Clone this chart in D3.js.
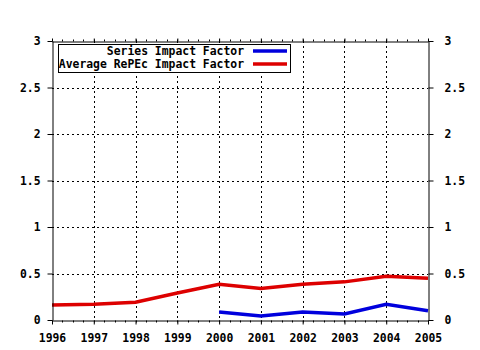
<!DOCTYPE html>
<html><head><meta charset="utf-8">
<script src="https://cdn.jsdelivr.net/npm/d3@7"></script>
<style>body{margin:0;background:#fff}svg{display:block}text{font-family:"DejaVu Sans Mono",monospace;font-weight:bold;font-size:11.4px;fill:#000}</style>
</head><body><svg id="c" width="480" height="350"></svg>
<script>
const years = [1996,1997,1998,1999,2000,2001,2002,2003,2004,2005];
const seriesYears = [2000,2001,2002,2003,2004,2005];
const seriesIF = [0.086,0.043,0.086,0.064,0.17,0.10];
const repecIF = [0.16,0.17,0.19,0.29,0.385,0.34,0.385,0.41,0.47,0.45];
const yTicks = [0,0.5,1,1.5,2,2.5,3];
const yTickLabels = ["0","0.5","1","1.5","2","2.5","3"];
const legendLabels = ["Series Impact Factor","Average RePEc Impact Factor"];
const colors = ["#0000dd","#dd0000"];

const svg = d3.select("#c");
const x = d3.scaleLinear().domain([1996,2005]).range([52,428]);
const y = d3.scaleLinear().domain([0,3]).range([320,41]);

// grid
const g = svg.append("g");
g.selectAll("line.v").data(years.slice(1,-1)).join("line")
  .attr("x1",d=>Math.round(x(d))+0.5).attr("x2",d=>Math.round(x(d))+0.5).attr("y1",y(3)).attr("y2",y(0))
  .attr("stroke","#000").attr("stroke-dasharray","2,3");
g.selectAll("line.h").data(yTicks.slice(1,-1)).join("line")
  .attr("y1",d=>Math.round(y(d))+0.5).attr("y2",d=>Math.round(y(d))+0.5).attr("x1",x(1996)).attr("x2",x(2005))
  .attr("stroke","#000").attr("stroke-dasharray","2,3");

// lines
const line = d3.line().x(d=>x(d[0])).y(d=>y(d[1]));
svg.append("path").datum(years.map((yr,i)=>[yr,repecIF[i]])).attr("d",line)
  .attr("fill","none").attr("stroke",colors[1]).attr("stroke-width",3.5);
svg.append("path").datum(seriesYears.map((yr,i)=>[yr,seriesIF[i]])).attr("d",line)
  .attr("fill","none").attr("stroke",colors[0]).attr("stroke-width",3.5);

// axes
const minor = d3.range(1996,2005.01,0.25);
const axB = svg.append("g").attr("transform",`translate(0,${y(0)+0.5})`)
  .call(d3.axisBottom(x).tickValues(years).tickFormat(d3.format("d")).tickSize(4).tickSizeOuter(0).tickPadding(9));
const axT = svg.append("g").attr("transform",`translate(0,${y(3)+0.5})`)
  .call(d3.axisTop(x).tickValues(years).tickFormat("").tickSize(3).tickSizeOuter(0));
[axB,axT].forEach((a,i)=>{
  a.selectAll(".mn").data(minor).join("line").attr("class","mn")
    .attr("x1",d=>Math.round(x(d))+0.5).attr("x2",d=>Math.round(x(d))+0.5).attr("y1",0).attr("y2",i===0?2:-2).attr("stroke","#000");
});
const axL = svg.append("g").attr("transform",`translate(${x(1996)+0.5},0)`)
  .call(d3.axisLeft(y).tickValues(yTicks).tickFormat((d,i)=>yTickLabels[i]).tickSize(5).tickSizeOuter(0).tickPadding(7));
const axR = svg.append("g").attr("transform",`translate(${x(2005)+0.5},0)`)
  .call(d3.axisRight(y).tickValues(yTicks).tickFormat((d,i)=>yTickLabels[i]).tickSize(5).tickSizeOuter(0).tickPadding(11));
svg.selectAll(".domain").attr("stroke","#000");
svg.selectAll(".tick line").attr("stroke","#000");
svg.selectAll(".tick text").style("font-family",'"DejaVu Sans Mono",monospace').style("font-weight","bold").style("font-size","11.4px").attr("fill","#000");

// legend
const lg = svg.append("g");
lg.append("rect").attr("x",58.5).attr("y",44.5).attr("width",232).attr("height",28)
  .attr("fill","#fff").attr("stroke","#000");
legendLabels.forEach((t,i)=>{
  lg.append("text").attr("x",244).attr("y",55+i*13).attr("text-anchor","end").text(t);
  lg.append("line").attr("x1",253).attr("x2",287).attr("y1",51+i*13).attr("y2",51+i*13)
    .attr("stroke",colors[i]).attr("stroke-width",3.5);
});
</script></body></html>
